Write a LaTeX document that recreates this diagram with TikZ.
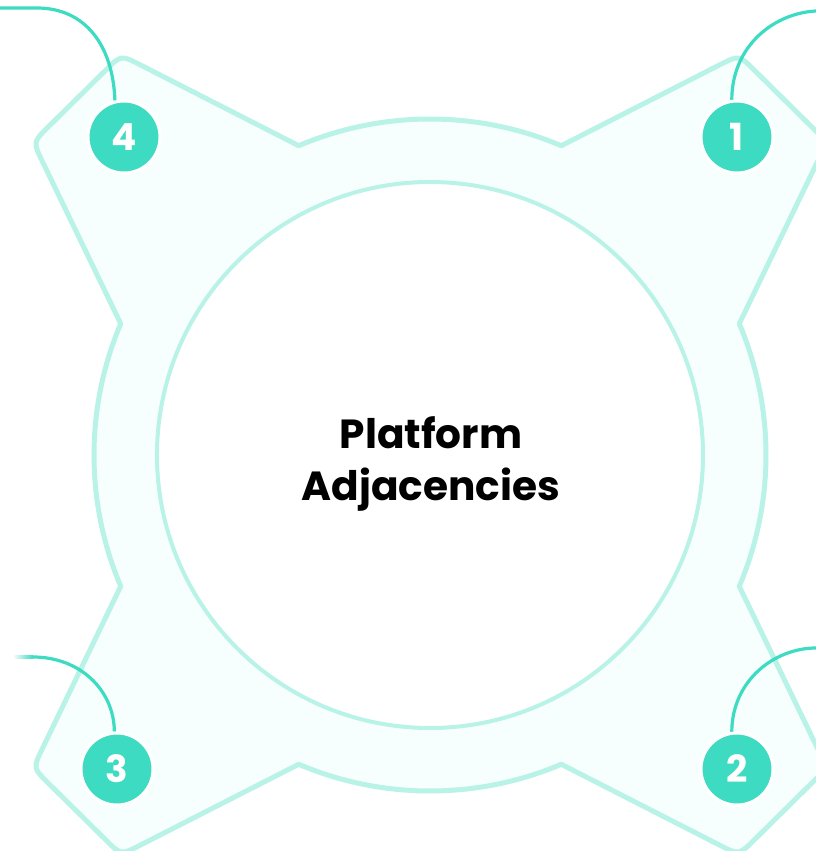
\documentclass[tikz,border=0pt]{standalone}
\usepackage{fontspec}
\setmainfont{Poppins}
\usetikzlibrary{calc}
\definecolor{mint}{HTML}{3DDBC1}
\definecolor{mintline}{HTML}{B9F2E6}
\definecolor{mintfill}{HTML}{F6FFFD}
\begin{document}
\begin{tikzpicture}[x=0.75pt,y=0.75pt,
  badge/.style={circle, fill=mint, draw=white, line width=2.25pt,
    minimum size=54pt, inner sep=0pt, text=white,
    font=\fontsize{28}{28}\selectfont\bfseries},
  link/.style={draw=mint, line width=2.4pt},
  title/.style={align=center, font=\fontsize{30.5}{39}\selectfont\bfseries}]
\useasboundingbox (-430,-396) rectangle (386,455);

% notches on the outer ring
\foreach \a/\n in {23/n1, 67/n2, 113/n3, 157/n4, 203/n5, 247/n6, 293/n7, 337/n8}
  \coordinate (\n) at (\a:336);
% lobe tips
\coordinate (tl1) at (-309,400); \coordinate (tl2) at (-397,313);
\coordinate (bl1) at (-397,-313); \coordinate (bl2) at (-309,-400);
\coordinate (br1) at (309,-400);  \coordinate (br2) at (397,-313);
\coordinate (tr1) at (397,313);   \coordinate (tr2) at (309,400);
\def\rr{16pt}

% outer frame: ring with four pointed lobes
\filldraw[fill=mintfill, draw=mintline, line width=3.75pt, line join=round]
 (n2) arc[start angle=67, end angle=113, radius=336]
 -- ($(tl1)!\rr!(n3)$) .. controls (tl1) .. ($(tl1)!\rr!(tl2)$)
 -- ($(tl2)!\rr!(tl1)$) .. controls (tl2) .. ($(tl2)!\rr!(n4)$)
 -- (n4) arc[start angle=157, end angle=203, radius=336]
 -- ($(bl1)!\rr!(n5)$) .. controls (bl1) .. ($(bl1)!\rr!(bl2)$)
 -- ($(bl2)!\rr!(bl1)$) .. controls (bl2) .. ($(bl2)!\rr!(n6)$)
 -- (n6) arc[start angle=247, end angle=293, radius=336]
 -- ($(br1)!\rr!(n7)$) .. controls (br1) .. ($(br1)!\rr!(br2)$)
 -- ($(br2)!\rr!(br1)$) .. controls (br2) .. ($(br2)!\rr!(n8)$)
 -- (n8) arc[start angle=337, end angle=383, radius=336]
 -- ($(tr1)!\rr!(n1)$) .. controls (tr1) .. ($(tr1)!\rr!(tr2)$)
 -- ($(tr2)!\rr!(tr1)$) .. controls (tr2) .. ($(tr2)!\rr!(n2)$)
 -- cycle;

% inner disc
\draw[fill=white, draw=mintline, line width=3pt] (0,0) circle[radius=273];

\node[title] (title) at (1,-9) {Platform\\Adjacencies};

% badge positions
\coordinate (p1) at (307,318);
\coordinate (p2) at (307,-314);
\coordinate (p3) at (-313,-314);
\coordinate (p4) at (-306,318);

% free ends of the connectors
\coordinate (c4) at (-430,447);
\coordinate (k4) at (-393,447);
\coordinate (c1) at (386,444);
\coordinate (c2) at (386,-193);
\coordinate (k3) at (-397,-202);
\coordinate (f3) at (-416,-202);

% connectors (drawn before the badges so the white rims sit on top)
\path (p1) node[badge, opacity=0] (g1) {1} (p2) node[badge, opacity=0] (g2) {2}
      (p3) node[badge, opacity=0] (g3) {3} (p4) node[badge, opacity=0] (g4) {4};
\draw[link] (c4) -- (k4) .. controls (-345,447) and (-317,410) .. (g4.104);
\draw[link] (g1.98) .. controls (302,410) and (345,442) .. (c1);
\draw[link] (g2.98) .. controls (302,-225) and (345,-193) .. (c2);
\draw[link] (k3) .. controls (-350,-202) and (-316,-235) .. (g3.94);
\shade[left color=mint!8, right color=mint] ($(f3)+(0,-1.6)$) rectangle ($(k3)+(0,1.6)$);

% numbered badges
\node[badge] (b1) at (p1) {1};
\node[badge] (b2) at (p2) {2};
\node[badge] (b3) at (p3) {3};
\node[badge] (b4) at (p4) {4};
\end{tikzpicture}
\end{document}
